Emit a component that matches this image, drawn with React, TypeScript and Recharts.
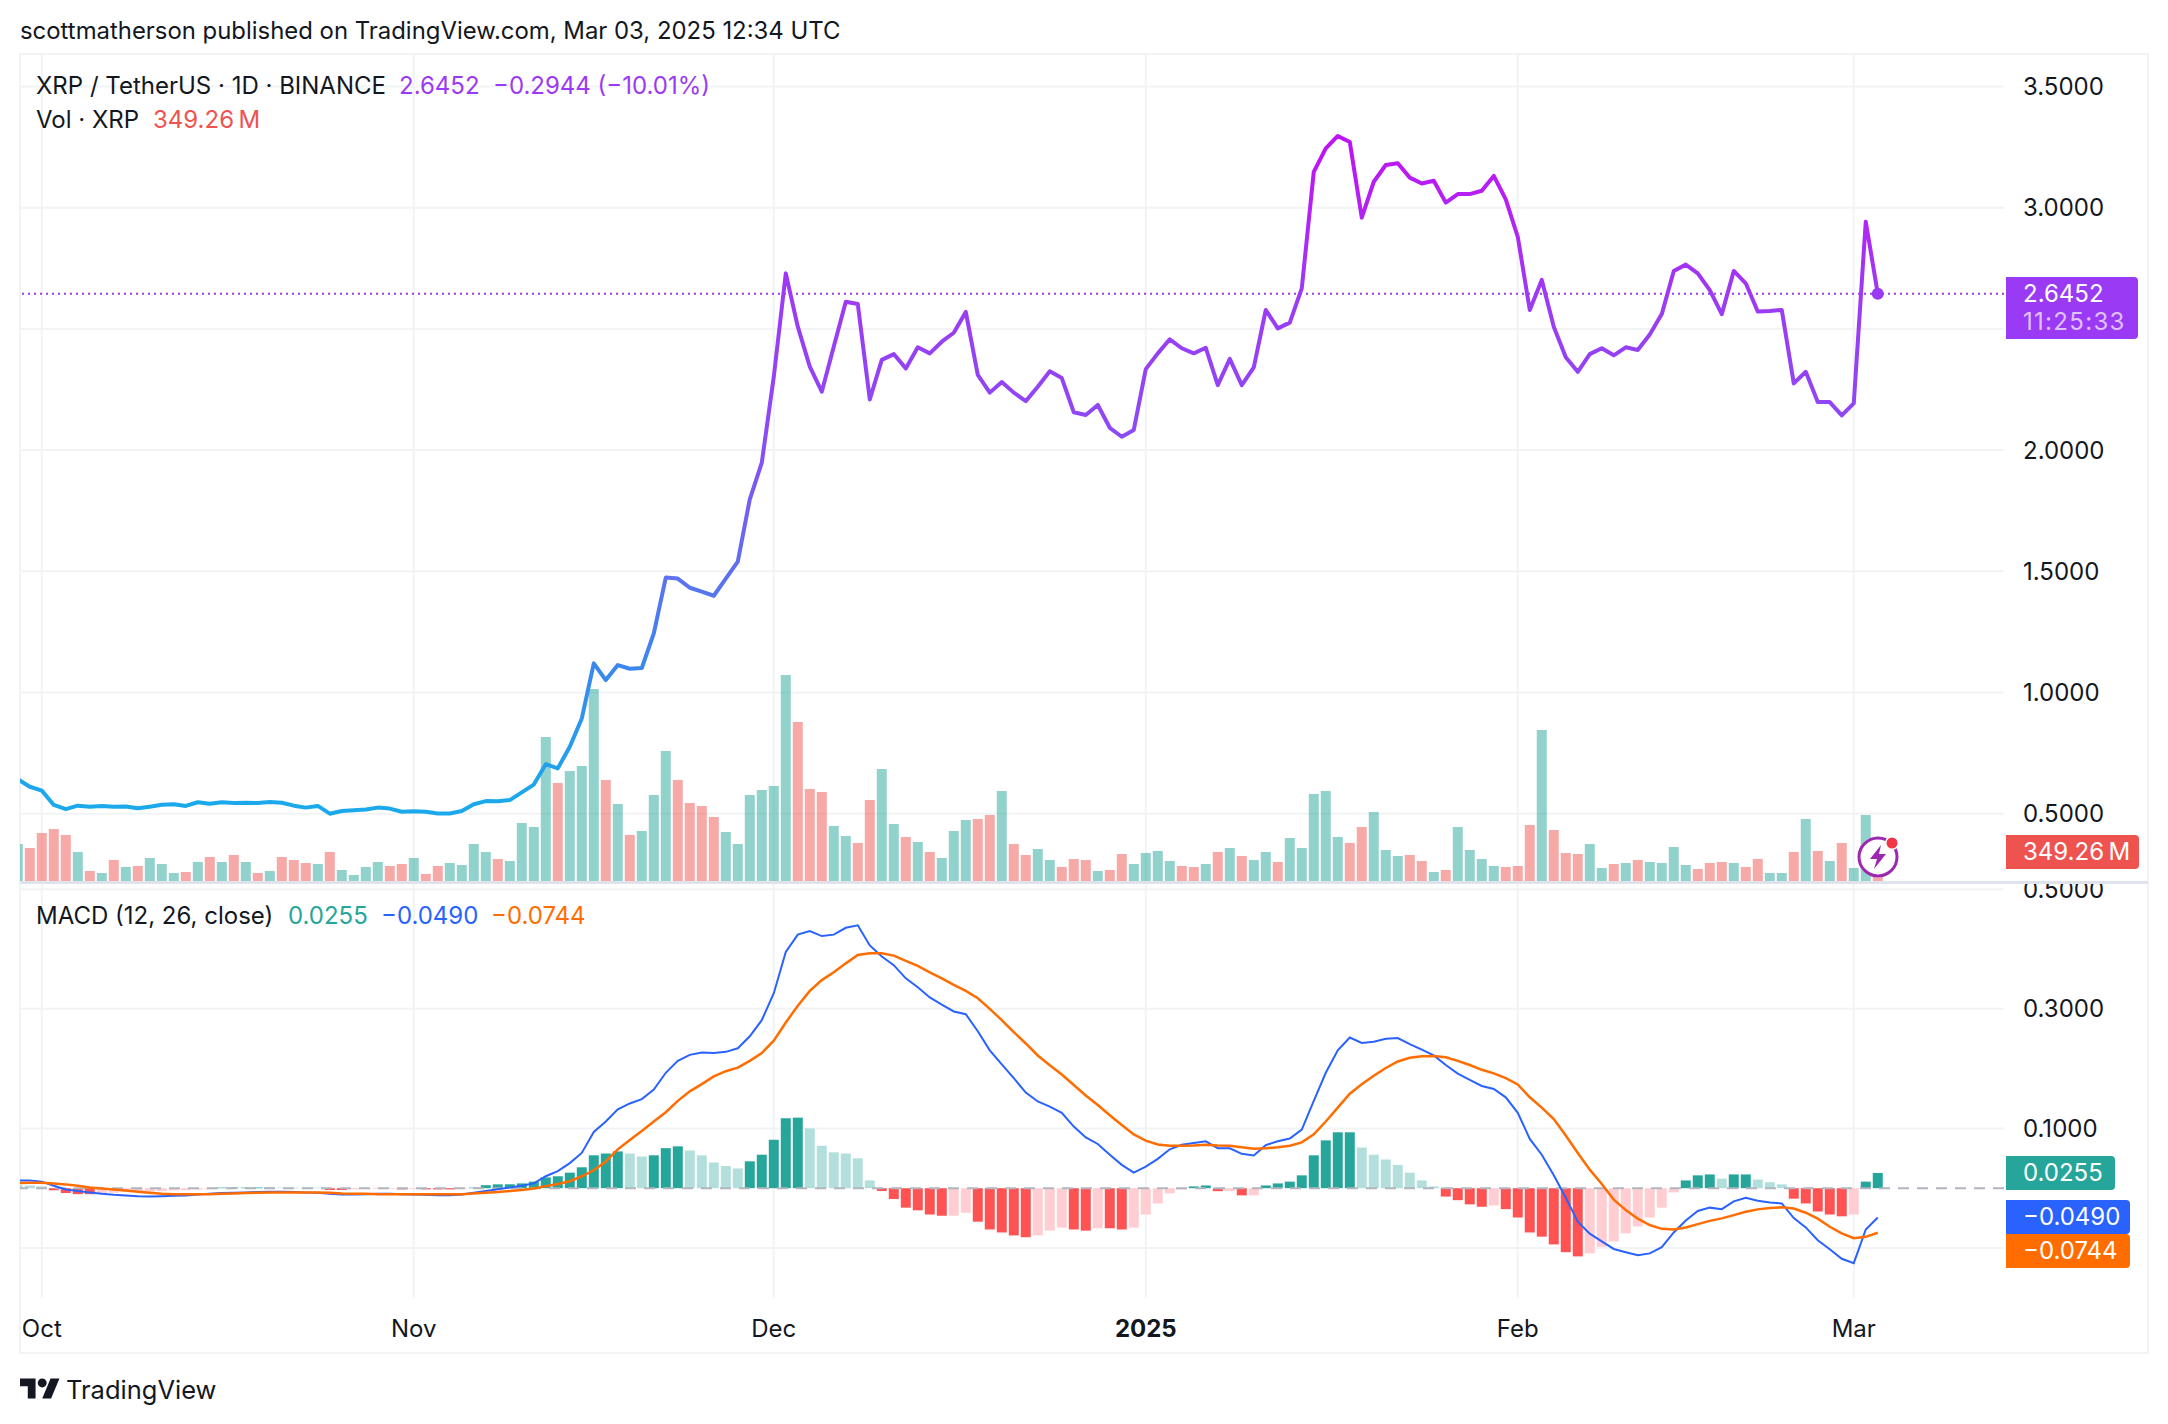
import { Bar, CartesianGrid, Cell, ComposedChart, Line, ReferenceLine, XAxis, YAxis } from "recharts";

// daily closes from Sep 29 2024 to Mar 3 2025
const closes = [
  0.642, 0.611, 0.595, 0.536, 0.519, 0.533, 0.529, 0.532, 0.529, 0.53,
  0.522, 0.529, 0.537, 0.539, 0.532, 0.547, 0.541, 0.547, 0.544, 0.545,
  0.544, 0.548, 0.545, 0.533, 0.525, 0.532, 0.5, 0.511, 0.514, 0.517,
  0.525, 0.521, 0.508, 0.51, 0.508, 0.501, 0.501, 0.511, 0.539, 0.552,
  0.551, 0.556, 0.588, 0.62, 0.704, 0.687, 0.776, 0.893, 1.12, 1.051,
  1.113, 1.098, 1.101, 1.244, 1.474, 1.47, 1.432, 1.416, 1.399, 1.47,
  1.54, 1.797, 1.948, 2.303, 2.729, 2.509, 2.344, 2.241, 2.427, 2.612,
  2.603, 2.209, 2.372, 2.396, 2.337, 2.424, 2.399, 2.447, 2.484, 2.57,
  2.31, 2.237, 2.281, 2.237, 2.202, 2.261, 2.325, 2.297, 2.156, 2.145,
  2.186, 2.092, 2.055, 2.083, 2.334, 2.399, 2.457, 2.42, 2.399, 2.422,
  2.268, 2.376, 2.268, 2.341, 2.578, 2.502, 2.526, 2.667, 3.148, 3.245,
  3.296, 3.271, 2.959, 3.107, 3.176, 3.183, 3.124, 3.1, 3.111, 3.021,
  3.056, 3.056, 3.07, 3.131, 3.034, 2.88, 2.578, 2.702, 2.509, 2.383,
  2.323, 2.396, 2.42, 2.391, 2.424, 2.413, 2.477, 2.561, 2.739, 2.765,
  2.729, 2.66, 2.561, 2.739, 2.688, 2.572, 2.574, 2.578, 2.275, 2.323,
  2.198, 2.198, 2.143, 2.193, 2.942, 2.6452,
];

// millions of XRP
const volumes = [
  444, 396, 576, 624, 552, 348, 120, 96, 252, 168,
  180, 276, 204, 96, 108, 228, 288, 228, 312, 228,
  96, 120, 288, 252, 216, 204, 348, 132, 72, 168,
  228, 180, 204, 276, 84, 180, 216, 192, 444, 348,
  264, 240, 696, 648, 1728, 1176, 1320, 1380, 2304, 1212,
  924, 552, 600, 1032, 1560, 1212, 936, 900, 768, 588,
  444, 1032, 1092, 1140, 2472, 1908, 1104, 1068, 660, 540,
  456, 972, 1344, 684, 528, 468, 348, 276, 600, 732,
  744, 792, 1080, 444, 312, 384, 252, 168, 264, 252,
  120, 132, 324, 204, 336, 360, 240, 180, 168, 204,
  348, 396, 300, 252, 348, 228, 516, 396, 1044, 1080,
  528, 456, 648, 828, 372, 300, 312, 240, 108, 132,
  648, 372, 264, 180, 168, 180, 672, 1812, 612, 336,
  324, 444, 156, 204, 216, 252, 228, 216, 408, 192,
  144, 216, 228, 216, 168, 264, 96, 96, 348, 744,
  360, 240, 456, 156, 792, 349.26,
];

const volumeSides = (
  "uddddududu" + "duuudududu" + "duddduduuu" + "uddudduuuu" +
  "duuuuduuud" + "uduuuddddu" + "uuuuuddduu" + "dduududuuu" +
  "ddudduuddd" + "udduuuuddu" + "duduuduuuu" + "udduuuddud" +
  "uuuudddudd" + "duududuuuu" + "dddudduudu" + "duduud"
).split("");

const macdLine = [
  0.0128, 0.0128, 0.011, 0.004, -0.002, -0.0046, -0.007, -0.0093, -0.011, -0.012,
  -0.0134, -0.0139, -0.0134, -0.0128, -0.012, -0.0105, -0.0093, -0.0081, -0.0075, -0.007,
  -0.0064, -0.0058, -0.0058, -0.0064, -0.007, -0.0075, -0.0093, -0.0105, -0.0105, -0.0099,
  -0.0093, -0.0093, -0.0099, -0.0105, -0.011, -0.0116, -0.0116, -0.0105, -0.0075, -0.0046,
  -0.0017, 0.0012, 0.004, 0.008, 0.02, 0.0285, 0.042, 0.059, 0.094, 0.1115,
  0.132, 0.1417, 0.149, 0.165, 0.193, 0.213, 0.223, 0.227, 0.226, 0.228,
  0.234, 0.254, 0.281, 0.326, 0.395, 0.424, 0.43, 0.4216, 0.424, 0.4355,
  0.4396, 0.406, 0.3873, 0.373, 0.351, 0.336, 0.319, 0.307, 0.2956, 0.291,
  0.2625, 0.2305, 0.207, 0.184, 0.16, 0.145, 0.1365, 0.126, 0.103, 0.085,
  0.074, 0.056, 0.039, 0.026, 0.036, 0.049, 0.065, 0.0726, 0.0755, 0.0784,
  0.067, 0.0668, 0.0575, 0.0546, 0.072, 0.0784, 0.083, 0.098, 0.146, 0.193,
  0.2305, 0.252, 0.243, 0.245, 0.25, 0.251, 0.241, 0.2317, 0.222, 0.206,
  0.1916, 0.181, 0.171, 0.166, 0.152, 0.126, 0.0825, 0.056, 0.0215, -0.016,
  -0.056, -0.076, -0.089, -0.1016, -0.107, -0.112, -0.109, -0.0987, -0.074, -0.054,
  -0.038, -0.0325, -0.035, -0.022, -0.016, -0.021, -0.024, -0.0255, -0.05, -0.0656,
  -0.087, -0.102, -0.118, -0.1254, -0.069, -0.049,
];

const signalLine = [
  0.0087, 0.0093, 0.0093, 0.008, 0.0064, 0.004, 0.0012, -0.0006, -0.0023, -0.004,
  -0.0058, -0.0075, -0.0093, -0.0099, -0.0099, -0.0099, -0.0099, -0.0093, -0.0087, -0.0081,
  -0.0075, -0.007, -0.007, -0.007, -0.007, -0.007, -0.0075, -0.0087, -0.0093, -0.0093,
  -0.0099, -0.0099, -0.0099, -0.0099, -0.0099, -0.0099, -0.0099, -0.0099, -0.0087, -0.0075,
  -0.0064, -0.0046, -0.0029, -0.0006, 0.0035, 0.007, 0.0116, 0.02, 0.03, 0.0447,
  0.065, 0.0807, 0.0958, 0.1115, 0.127, 0.146, 0.162, 0.174, 0.187, 0.1957,
  0.2015, 0.213, 0.226, 0.2468, 0.277, 0.305, 0.33, 0.348, 0.361, 0.376,
  0.39, 0.393, 0.393, 0.389, 0.38, 0.3717, 0.361, 0.351, 0.34, 0.33,
  0.3177, 0.3, 0.281, 0.261, 0.242, 0.222, 0.2056, 0.19, 0.1725, 0.155,
  0.139, 0.122, 0.1057, 0.09, 0.0796, 0.073, 0.071, 0.071, 0.0714, 0.0726,
  0.0714, 0.071, 0.0685, 0.066, 0.0668, 0.0685, 0.071, 0.0767, 0.09, 0.1115,
  0.1347, 0.158, 0.174, 0.188, 0.201, 0.212, 0.218, 0.2207, 0.221, 0.219,
  0.213, 0.206, 0.198, 0.192, 0.184, 0.1736, 0.152, 0.1347, 0.1156, 0.088,
  0.059, 0.031, 0.007, -0.019, -0.0366, -0.051, -0.0616, -0.068, -0.069, -0.0656,
  -0.06, -0.0546, -0.0505, -0.045, -0.0395, -0.0354, -0.033, -0.032, -0.034, -0.041,
  -0.051, -0.0645, -0.0755, -0.0836, -0.0813, -0.0744,
];

const macdHist = [
  0.005, 0.0045, 0.003, -0.0035, -0.008, -0.01, -0.01, -0.009, -0.0075, -0.0065,
  -0.006, -0.0052, -0.0046, -0.0035, -0.0035, -0.0023, -0.0017, 0.001, 0.001, 0.001,
  0.001, 0.001, 0.001, 0.001, 0.001, 0.001, -0.003, -0.003, -0.002, -0.0015,
  -0.0015, -0.0015, -0.002, -0.0015, -0.002, -0.002, -0.002, -0.0015, 0.001, 0.005,
  0.0065, 0.0065, 0.008, 0.011, 0.018, 0.02, 0.026, 0.035, 0.055, 0.058,
  0.0615, 0.058, 0.053, 0.055, 0.067, 0.07, 0.063, 0.055, 0.043, 0.037,
  0.033, 0.045, 0.056, 0.081, 0.117, 0.118, 0.1, 0.071, 0.06, 0.058,
  0.05, 0.013, -0.0046, -0.018, -0.0325, -0.037, -0.044, -0.046, -0.046, -0.041,
  -0.056, -0.069, -0.074, -0.079, -0.082, -0.079, -0.071, -0.066, -0.069, -0.071,
  -0.067, -0.067, -0.069, -0.066, -0.044, -0.0255, -0.0087, -0.0023, 0.003, 0.0046,
  -0.005, -0.005, -0.012, -0.012, 0.0046, 0.008, 0.011, 0.0215, 0.055, 0.08,
  0.0935, 0.0935, 0.068, 0.056, 0.048, 0.039, 0.026, 0.013, 0.003, -0.014,
  -0.02, -0.027, -0.031, -0.029, -0.035, -0.049, -0.074, -0.081, -0.094, -0.107,
  -0.114, -0.109, -0.098, -0.089, -0.0755, -0.064, -0.049, -0.0325, -0.007, 0.013,
  0.0215, 0.023, 0.016, 0.023, 0.023, 0.0145, 0.01, 0.0064, -0.0175, -0.0255,
  -0.039, -0.044, -0.047, -0.044, 0.011, 0.0255,
];

// d rising above zero, l falling above zero, r falling below zero, p rising below zero
const histTones = (
  "lllrrrrppp" + "pppppppddd" + "ddllllrrpp" + "pprprrrpdd" +
  "dddddddddd" + "dlldddllll" + "ldddddllll" + "llrrrrrrpp" +
  "rrrrrppprr" + "prrpppppdd" + "rprpdddddd" + "ddlllllllr" +
  "rrrprrrrrr" + "rppppppppd" + "ddlddlllrr" + "rrrpdd"
).split("");

const monthTicks = [2, 33, 63, 94, 125, 153];
const monthLabels = ["Oct", "Nov", "Dec", "2025", "Feb", "Mar"];
const priceTicks = [0.5, 1, 1.5, 2, 2.5, 3, 3.5];
const macdTicks = [-0.1, 0.1, 0.3, 0.5];

const lastClose = 2.6452;
const lastIndex = closes.length - 1;

const priceRows = closes.map((close, day) => ({ day, close, volume: volumes[day], side: volumeSides[day] }));
const macdRows = macdLine.map((macd, day) => ({ day, macd, signal: signalLine[day], hist: macdHist[day], tone: histTones[day] }));

const toneFill: Record<string, string> = { d: "#26a69a", l: "#b2dfdb", r: "#ff5252", p: "#ffcdd2" };
const FONT = "Inter, 'Noto Sans', sans-serif";
const INK = "#131722";
const GRID = "#f2f3f5";
const xDomain: [number, number] = [0.183, 165.52];

const fmt4 = (v: number) => v.toFixed(4);

function MonthTick({ x, y, payload }: any) {
  const label = monthLabels[monthTicks.indexOf(payload.value)];
  return (
    <text x={x} y={y + 24} textAnchor="middle" dominantBaseline="central" fontFamily={FONT} fontSize={24}
      fontWeight={label === "2025" ? 700 : 400} fill={INK}>
      {label}
    </text>
  );
}

function Txt({ x, y, color = INK, size = 24, spacing = 0, children }: any) {
  return (
    <span style={{ position: "absolute", left: x, top: y, transform: "translateY(-50%)", color, fontSize: size, letterSpacing: spacing, fontFamily: FONT, whiteSpace: "nowrap", lineHeight: 1 }}>
      {children}
    </span>
  );
}

function Box({ top, height, width, color }: any) {
  return <div style={{ position: "absolute", left: 2006, top, width, height, background: color, borderRadius: "0 4px 4px 0" }} />;
}

export default function App() {
  return (
    <div style={{ position: "absolute", left: 0, top: 0, width: 2168, height: 1424, background: "#fff", overflow: "hidden" }}>
      <Txt x={20} y={31} size={23.9}>scottmatherson published on TradingView.com, Mar 03, 2025 12:34 UTC</Txt>

      <div style={{ position: "absolute", left: 19, top: 53, width: 2130, height: 1301, border: `2px solid ${GRID}`, boxSizing: "border-box" }} />

      <div style={{ position: "absolute", left: 0, top: 0 }}>
        <ComposedChart width={2168} height={883} data={priceRows} margin={{ top: 54, left: 20, right: 0, bottom: 0 }}>
          <defs>
            <linearGradient id="priceGlow" x1="0" y1="0" x2="0" y2="1">
              <stop offset="0%" stopColor="#bf12f5" />
              <stop offset="11%" stopColor="#b422f4" />
              <stop offset="23%" stopColor="#9d3af3" />
              <stop offset="43%" stopColor="#8e49f5" />
              <stop offset="64%" stopColor="#5f70f0" />
              <stop offset="78%" stopColor="#3b87ee" />
              <stop offset="98%" stopColor="#1ba9ec" />
            </linearGradient>
          </defs>
          <CartesianGrid stroke={GRID} strokeWidth={2} yAxisId="price" syncWithTicks />
          <XAxis dataKey="day" type="number" domain={xDomain} ticks={monthTicks} allowDataOverflow hide />
          <YAxis yAxisId="price" orientation="right" domain={[0.214, 3.634]} ticks={priceTicks} allowDataOverflow
            width={164} axisLine={false} tickLine={false} tickMargin={13}
            tickFormatter={(v: number) => (v === 2.5 ? "" : fmt4(v))} interval={0}
            tick={{ fill: INK, fontSize: 24, fontFamily: FONT }} />
          <YAxis yAxisId="volume" hide domain={[-24, 9924]} allowDataOverflow />
          <Bar yAxisId="volume" dataKey="volume" barSize={10} isAnimationActive={false}>
            {priceRows.map((row) => (
              <Cell key={row.day} fill={row.side === "u" ? "#26a69a" : "#ef5350"} fillOpacity={0.5} />
            ))}
          </Bar>
          <ReferenceLine yAxisId="price" y={lastClose} stroke="#9b3af5" strokeWidth={2} strokeDasharray="2 4" />
          <Line yAxisId="price" dataKey="close" type="linear" stroke="url(#priceGlow)" strokeWidth={4} strokeLinejoin="round"
            isAnimationActive={false} activeDot={false}
            dot={(p: any) => p.index === lastIndex
              ? <circle key="last" cx={p.cx} cy={p.cy} r={6} fill="#9b3af5" />
              : <g key={p.index} />} />
        </ComposedChart>
      </div>

      <div style={{ position: "absolute", left: 20, top: 881, width: 2128, height: 3, background: "#e0e3eb" }} />

      <div style={{ position: "absolute", left: 0, top: 884 }}>
        <ComposedChart width={2168} height={470} data={macdRows} margin={{ top: 0, left: 20, right: 0, bottom: 0 }}>
          <CartesianGrid stroke={GRID} strokeWidth={2} yAxisId="macd" syncWithTicks />
          <XAxis dataKey="day" type="number" domain={xDomain} ticks={monthTicks} allowDataOverflow height={56} interval={0}
            axisLine={false} tickLine={false} tickMargin={0} tick={<MonthTick />} />
          <YAxis yAxisId="macd" orientation="right" domain={[-0.1836, 0.5087]} ticks={macdTicks} allowDataOverflow
            width={164} axisLine={false} tickLine={false} tickMargin={13} tickFormatter={(v: number) => (v < 0 ? "" : fmt4(v))} interval={0}
            tick={{ fill: INK, fontSize: 24, fontFamily: FONT }} />
          <Bar yAxisId="macd" dataKey="hist" barSize={10} isAnimationActive={false}>
            {macdRows.map((row) => (
              <Cell key={row.day} fill={toneFill[row.tone]} />
            ))}
          </Bar>
          <ReferenceLine yAxisId="macd" y={0} stroke="#b2b5be" strokeWidth={2} strokeDasharray="11 8" />
          <Line yAxisId="macd" dataKey="macd" type="linear" stroke="#2962ff" strokeWidth={2} dot={false} activeDot={false} isAnimationActive={false} />
          <Line yAxisId="macd" dataKey="signal" type="linear" stroke="#ff6d00" strokeWidth={2.5} dot={false} activeDot={false} isAnimationActive={false} />
        </ComposedChart>
      </div>

      <Txt x={36} y={86}>XRP / TetherUS · 1D · BINANCE</Txt>
      <Txt x={399} y={86} color="#9b3af5">2.6452</Txt>
      <Txt x={493} y={86} color="#9b3af5">−0.2944 (−10.01%)</Txt>
      <Txt x={36} y={120}>Vol · XRP</Txt>
      <Txt x={153} y={120} color="#ef5350">349.26{"\u2009"}M</Txt>
      <Txt x={36} y={916}>MACD (12, 26, close)</Txt>
      <Txt x={288} y={916} color="#26a69a">0.0255</Txt>
      <Txt x={381} y={916} color="#2962ff">−0.0490</Txt>
      <Txt x={491} y={916} color="#ff6d00">−0.0744</Txt>

      <Box top={277} height={62} width={132} color="#9b3af5" />
      <Txt x={2023} y={294} color="#fff">2.6452</Txt>
      <Txt x={2023} y={322} color="rgba(255,255,255,0.7)" spacing={1.3}>11:25:33</Txt>
      <Box top={835} height={34} width={133} color="#ef5350" />
      <Txt x={2023} y={852} color="#fff">349.26{"\u2009"}M</Txt>
      <Box top={1156} height={34} width={109} color="#26a69a" />
      <Txt x={2023} y={1173} color="#fff">0.0255</Txt>
      <Box top={1200} height={34} width={124} color="#2962ff" />
      <Txt x={2023} y={1217} color="#fff">−0.0490</Txt>
      <Box top={1234} height={34} width={124} color="#ff6d00" />
      <Txt x={2023} y={1251} color="#fff">−0.0744</Txt>

      <svg style={{ position: "absolute", left: 1856, top: 835 }} width={44} height={44} viewBox="0 0 44 44">
        <circle cx={22} cy={22} r={20.5} fill="#fff" />
        <circle cx={22} cy={22} r={19} fill="none" stroke="#9c27b0" strokeWidth={3} />
        <path d="M25 10 L14 24 H21 L18 34 L30 19 H23 Z" fill="#9c27b0" />
        <circle cx={36} cy={8} r={7} fill="#fff" />
        <circle cx={36} cy={8} r={5.5} fill="#f23645" />
      </svg>

      <svg style={{ position: "absolute", left: 20, top: 1378 }} width={40} height={21} viewBox="0 4 36 18">
        <path d="M14 22H7V11H0V4h14v18zM28 22h-8l7.5-18h8L28 22z" fill={INK} />
        <circle cx={20} cy={8} r={4} fill={INK} />
      </svg>
      <Txt x={66} y={1390} size={25.5}>TradingView</Txt>
    </div>
  );
}
